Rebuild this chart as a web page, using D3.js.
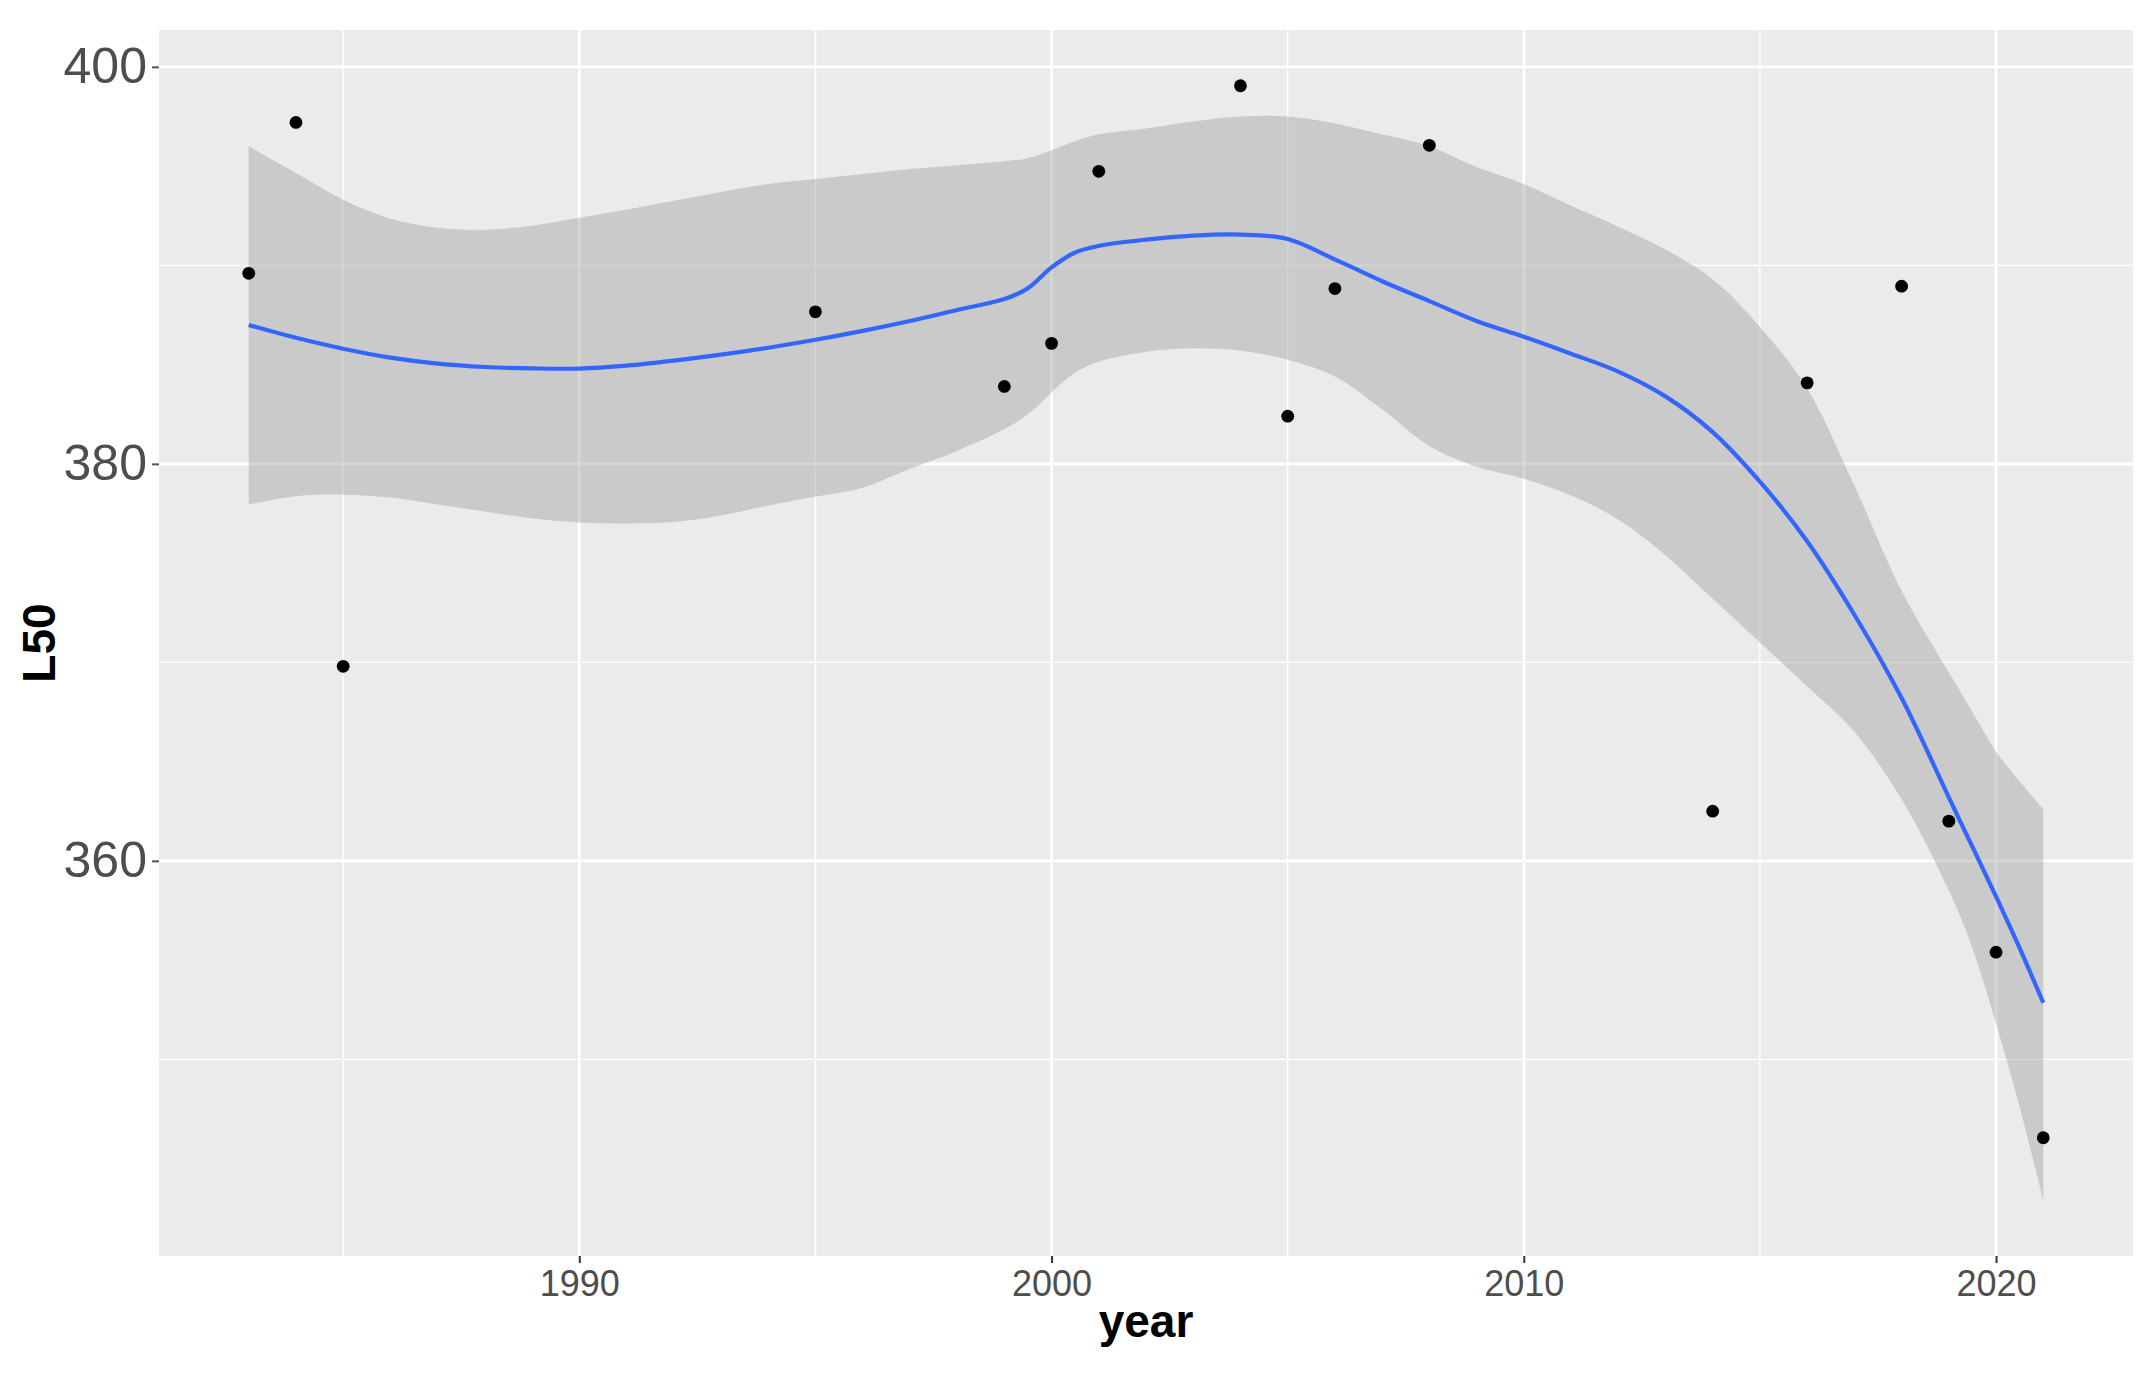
<!DOCTYPE html>
<html>
<head>
<meta charset="utf-8">
<script src="https://cdn.jsdelivr.net/npm/d3@7"></script>
<style>
  html, body { margin: 0; padding: 0; background: #ffffff; }
  svg { display: block; }
</style>
</head>
<body>
<svg id="chart" width="2154" height="1382"></svg>
<script>
// ---- observed data ----
const years = [1983, 1984, 1985, 1995, 1999, 2000, 2001, 2004, 2005, 2006, 2008, 2014, 2016, 2018, 2019, 2020, 2021];
const L50   = [389.6, 397.2, 369.8, 387.66, 383.9, 386.07, 394.74, 399.05, 382.4, 388.83, 396.05, 362.5, 384.08, 388.95, 362.0, 355.4, 346.05];

// ---- loess smooth ----
const smoothYears = [1983,1984,1985,1986,1987,1988,1989,1990,1991,1992,1993,1994,1995,1996,1997,1998,1999,1999.5,2000,2000.5,2001,2002,2003,2004,2005,2006,2007,2008,2009,2010,2011,2012,2013,2014,2015,2016,2017,2018,2019,2019.5,2020,2020.5,2021];
const smoothFit = [387.0,386.35,385.8,385.35,385.05,384.88,384.81,384.8,384.95,385.2,385.5,385.85,386.25,386.7,387.2,387.75,388.3,388.85,389.9,390.65,390.98,391.3,391.5,391.55,391.33,390.3,389.2,388.2,387.2,386.4,385.55,384.65,383.4,381.6,379.1,376.1,372.4,368.2,363.2,360.7,358.2,355.6,352.85];
const smoothUpper = [396.0,394.65,393.3,392.35,391.9,391.8,392.0,392.4,392.8,393.25,393.7,394.1,394.35,394.6,394.85,395.05,395.25,395.4,395.8,396.25,396.6,396.9,397.25,397.5,397.5,397.15,396.6,396.0,394.95,394.1,393.0,391.95,390.8,389.3,386.9,383.8,378.9,373.6,369.5,367.5,365.5,364.0,362.6];
const smoothLower = [377.95,378.37,378.45,378.3,377.95,377.6,377.25,377.05,377.0,377.07,377.4,377.9,378.35,378.8,379.75,380.65,381.75,382.5,383.6,384.6,385.15,385.65,385.82,385.7,385.25,384.4,382.75,380.9,379.85,379.25,378.4,377.2,375.4,373.2,371.0,368.8,366.5,363.1,358.5,355.6,351.8,347.6,342.9];

// ---- ticks ----
const xMajor = [1990, 2000, 2010, 2020];
const xMinor = [1985, 1995, 2005, 2015];
const yMajor = [360, 380, 400];
const yMinor = [350, 370, 390];
const xTitle = "year";
const yTitle = "L50";

// ---- layout ----
const panel = { left: 159, right: 2133, top: 30, bottom: 1256 };
const svg = d3.select("#chart");

// ggplot-like 5% expansion
function expand(lo, hi) { const d = (hi - lo) * 0.05; return [lo - d, hi + d]; }
const xExt = d3.extent(years.concat(smoothYears));
const yLo = d3.min(L50.concat(smoothLower));
const yHi = d3.max(L50.concat(smoothUpper));
const x = d3.scaleLinear().domain(expand(xExt[0], xExt[1])).range([panel.left, panel.right]);
const y = d3.scaleLinear().domain(expand(yLo, yHi)).range([panel.bottom, panel.top]);

// panel background
svg.append("rect")
  .attr("x", panel.left).attr("y", panel.top)
  .attr("width", panel.right - panel.left).attr("height", panel.bottom - panel.top)
  .attr("fill", "#EBEBEB");

const grid = svg.append("g");
grid.selectAll(".xminor").data(xMinor).join("line")
  .attr("x1", d => x(d)).attr("x2", d => x(d))
  .attr("y1", panel.top).attr("y2", panel.bottom)
  .attr("stroke", "#ffffff").attr("stroke-width", 1.35);
grid.selectAll(".yminor").data(yMinor).join("line")
  .attr("x1", panel.left).attr("x2", panel.right)
  .attr("y1", d => y(d)).attr("y2", d => y(d))
  .attr("stroke", "#ffffff").attr("stroke-width", 1.35);
grid.selectAll(".xmajor").data(xMajor).join("line")
  .attr("x1", d => x(d)).attr("x2", d => x(d))
  .attr("y1", panel.top).attr("y2", panel.bottom)
  .attr("stroke", "#ffffff").attr("stroke-width", 2.7);
grid.selectAll(".ymajor").data(yMajor).join("line")
  .attr("x1", panel.left).attr("x2", panel.right)
  .attr("y1", d => y(d)).attr("y2", d => y(d))
  .attr("stroke", "#ffffff").attr("stroke-width", 2.7);

// clip
svg.append("clipPath").attr("id", "clip").append("rect")
  .attr("x", panel.left).attr("y", panel.top)
  .attr("width", panel.right - panel.left).attr("height", panel.bottom - panel.top);
const plot = svg.append("g").attr("clip-path", "url(#clip)");

const smooth = smoothYears.map((yr, i) => ({ yr, fit: smoothFit[i], lo: smoothLower[i], hi: smoothUpper[i] }));
const curve = d3.curveCatmullRom.alpha(0.5);

plot.append("path").datum(smooth)
  .attr("d", d3.area().curve(curve)
    .x(d => x(d.yr)).y0(d => y(d.lo)).y1(d => y(d.hi)))
  .attr("fill", "#999999").attr("fill-opacity", 0.4);

plot.append("path").datum(smooth)
  .attr("d", d3.line().curve(curve).x(d => x(d.yr)).y(d => y(d.fit)))
  .attr("fill", "none").attr("stroke", "#3366FF").attr("stroke-width", 4.2);

const pts = years.map((yr, i) => ({ yr, v: L50[i] }));
plot.selectAll("circle").data(pts).join("circle")
  .attr("cx", d => x(d.yr)).attr("cy", d => y(d.v))
  .attr("r", 6.4).attr("fill", "#000000");

// axes
const xAxis = d3.axisBottom(x).tickValues(xMajor).tickFormat(d3.format("d")).tickSize(7).tickPadding(7);
const yAxis = d3.axisLeft(y).tickValues(yMajor).tickFormat(d3.format("d")).tickSize(7).tickPadding(5);

const gx = svg.append("g").attr("transform", `translate(0,${panel.bottom})`).call(xAxis);
gx.select(".domain").remove();
gx.selectAll(".tick line").attr("stroke", "#333333").attr("stroke-width", 2);
gx.selectAll(".tick text").attr("fill", "#4D4D4D")
  .attr("font-family", "'Liberation Sans', Arial, sans-serif").attr("font-size", 36);

const gy = svg.append("g").attr("transform", `translate(${panel.left},0)`).call(yAxis);
gy.select(".domain").remove();
gy.selectAll(".tick line").attr("stroke", "#555555").attr("stroke-width", 2);
gy.selectAll(".tick text").attr("fill", "#4D4D4D")
  .attr("font-family", "'Liberation Sans', Arial, sans-serif").attr("font-size", 50);

// titles
svg.append("text")
  .attr("x", (panel.left + panel.right) / 2).attr("y", 1337)
  .attr("text-anchor", "middle")
  .attr("font-family", "'Liberation Sans', Arial, sans-serif")
  .attr("font-weight", "bold").attr("font-size", 46).attr("fill", "#000")
  .text(xTitle);

svg.append("text")
  .attr("transform", `translate(55,${(panel.top + panel.bottom) / 2}) rotate(-90)`)
  .attr("text-anchor", "middle")
  .attr("font-family", "'Liberation Sans', Arial, sans-serif")
  .attr("font-weight", "bold").attr("font-size", 46).attr("fill", "#000")
  .text(yTitle);
</script>
</body>
</html>
